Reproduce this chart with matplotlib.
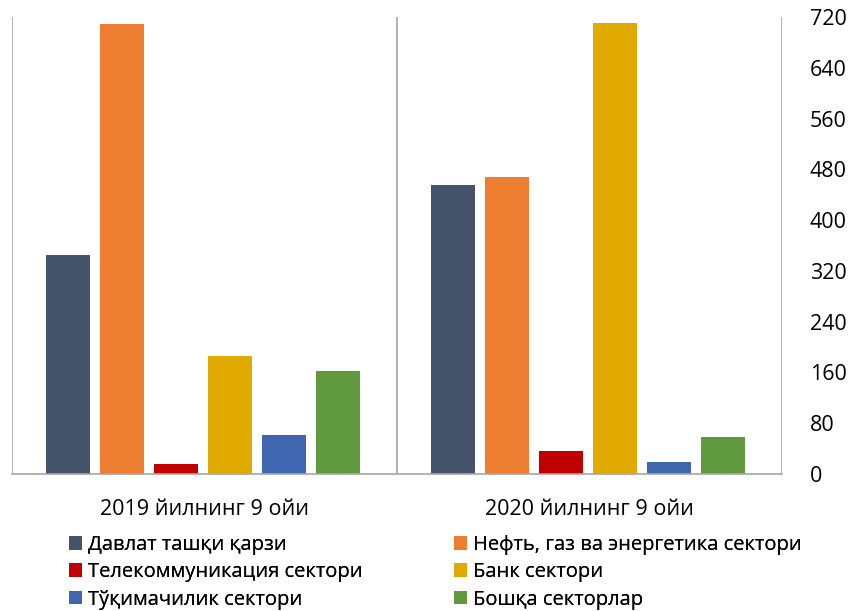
import matplotlib
matplotlib.use('Agg')
import matplotlib.pyplot as plt
import numpy as np

plt.rcParams['font.family'] = ['Open Sans', 'DejaVu Sans']

# data
periods = ['2019 йилнинг 9 ойи', '2020 йилнинг 9 ойи']
sectors = [
    'Давлат ташқи қарзи',
    'Нефть, газ ва энергетика сектори',
    'Телекоммуникация сектори',
    'Банк сектори',
    'Тўқимачилик сектори',
    'Бошқа секторлар',
]
values = {
    'Давлат ташқи қарзи': [345, 455],
    'Нефть, газ ва энергетика сектори': [709, 468],
    'Телекоммуникация сектори': [16, 36],
    'Банк сектори': [186, 711],
    'Тўқимачилик сектори': [61, 19],
    'Бошқа секторлар': [162, 58],
}
colours = ['#44546a', '#ed7d31', '#c00000', '#e0aa00', '#4166b0', '#619a3e']
y_ticks = [0, 80, 160, 240, 320, 400, 480, 560, 640, 720]

dpi = 100
fig = plt.figure(figsize=(853 / dpi, 611 / dpi), dpi=dpi)
ax = fig.add_axes([12 / 853, 1 - 474 / 611, 770 / 853, 457 / 611])

x = np.arange(len(periods))
step = 0.14
width = 0.114
bars = []
for i, name in enumerate(sectors):
    offs = (i - (len(sectors) - 1) / 2) * step - 0.004
    bars.append(ax.bar(x + offs, values[name], width=width, color=colours[i], label=name))

ax.set_xlim(-0.5, len(periods) - 0.5)
ax.set_ylim(0, 720)
for b in np.arange(-0.5, len(periods), 1.0):
    ax.axvline(b, color='#a6a6a6', linewidth=1.2, zorder=0)

for s in ['top', 'left', 'right']:
    ax.spines[s].set_visible(False)
ax.spines['bottom'].set_color('#a6a6a6')
ax.spines['bottom'].set_linewidth(1.2)

ax.yaxis.tick_right()
ax.set_yticks(y_ticks)
ax.set_yticklabels([str(t) for t in y_ticks], fontsize=15.5)
ax.tick_params(axis='y', length=0, pad=20)
ax.set_xticks(x)
ax.set_xticklabels(periods, fontsize=15.5)
ax.tick_params(axis='x', length=0, pad=18)

# legend: two columns filled row by row, each placed on its own
leg_kw = dict(loc='upper left', frameon=False, fontsize=14.5, handlelength=0.65,
              handleheight=0.65, handletextpad=0.3, labelspacing=0.36,
              borderaxespad=0, borderpad=0)
for col, x0 in enumerate([69, 454]):
    idx = list(range(col, len(sectors), 2))
    leg = fig.legend([bars[i] for i in idx], [sectors[i] for i in idx],
                     bbox_to_anchor=(x0 / 853, 1 - 535 / 611), **leg_kw)
    fig.add_artist(leg)

fig.savefig('out.png', dpi=dpi)
